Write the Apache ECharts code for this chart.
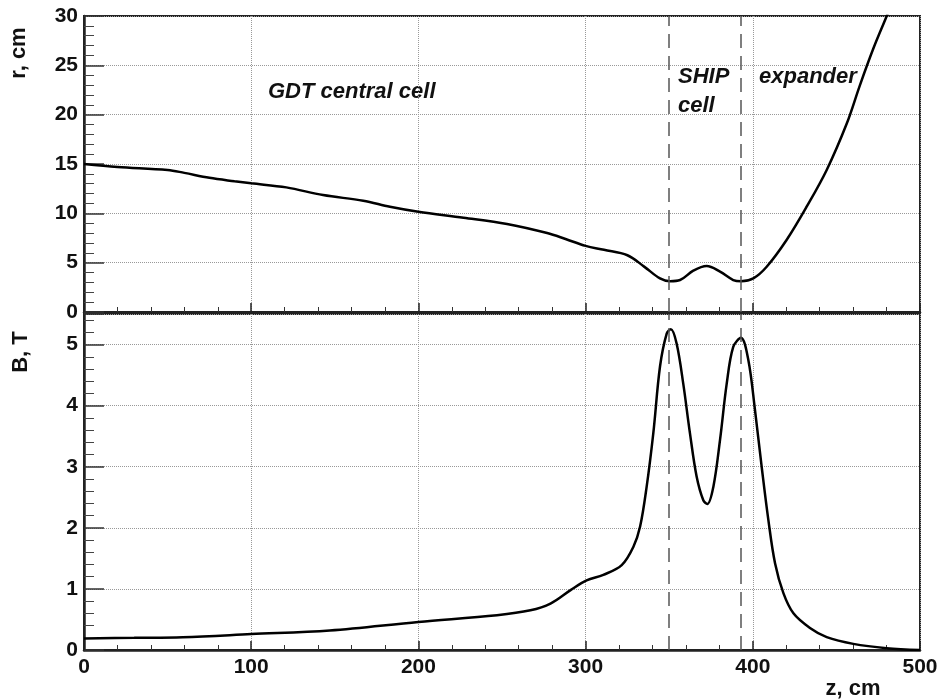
<!DOCTYPE html>
<html>
<head>
<meta charset="utf-8">
<script src="https://cdn.jsdelivr.net/npm/echarts@6/dist/echarts.min.js"></script>
<style>html,body{margin:0;padding:0;background:#fff;}#c{width:945px;height:700px;}</style>
</head>
<body>
<div id="c"></div>
<script>
// r(z) profile, top panel
const zR = [0, 20, 50, 60, 75, 90, 100, 121, 143, 167, 183, 200, 227, 253, 277, 288, 300, 311, 325, 335, 344.5, 350.5, 356.5, 364.4, 372.4, 380.4, 388.3, 393, 400.3, 408.3, 420.2, 432.2, 444.2, 456.2, 464.1, 472.1, 480.1, 486];
const rVals = [15.0, 14.7, 14.4, 14.1, 13.6, 13.25, 13.04, 12.63, 11.85, 11.28, 10.67, 10.16, 9.56, 8.92, 8.0, 7.4, 6.7, 6.3, 5.75, 4.6, 3.4, 3.12, 3.24, 4.19, 4.66, 4.09, 3.24, 3.12, 3.41, 4.59, 7.3, 10.67, 14.4, 19.1, 23.0, 26.7, 30.0, 32.5];
// B(z) profile, bottom panel
const zB = [0, 30, 59, 100, 147, 200, 247, 267, 279, 291, 300.6, 310.6, 321.6, 328.6, 332.6, 336.5, 340.5, 344.5, 348.5, 351, 354.4, 358.4, 362.4, 366.4, 370.4, 372.8, 376.4, 380.4, 384.4, 388.3, 392.9, 397.3, 401.3, 405.3, 409.3, 413.3, 418.3, 424.3, 434.2, 444.2, 460.1, 480, 500];
const bVals = [0.19, 0.2, 0.21, 0.26, 0.32, 0.46, 0.57, 0.65, 0.76, 0.98, 1.14, 1.23, 1.39, 1.69, 2.02, 2.67, 3.55, 4.64, 5.18, 5.25, 5.02, 4.36, 3.55, 2.84, 2.45, 2.39, 2.67, 3.44, 4.36, 4.96, 5.11, 4.75, 3.93, 3.0, 2.13, 1.42, 0.93, 0.60, 0.36, 0.21, 0.10, 0.03, 0.0];
// cell boundaries (dashed lines)
const boundaries = [350, 393];
// text
const yTitleTop = 'r, cm';
const yTitleBottom = 'B, T';
const xTitle = 'z, cm';
const regionLabels = ['GDT central cell', 'SHIP', 'cell', 'expander'];

const FONT = 'Liberation Sans, Arial, sans-serif';
const chart = echarts.init(document.getElementById('c'));

function pairs(xs, ys) { return xs.map((x, i) => [x, ys[i]]); }

const labelStyle = { fontFamily: FONT, fontWeight: 'bold', fontSize: 21, color: '#111' };
function xAxisCfg(gridIndex, showLabels) {
  return {
    type: 'value', gridIndex, min: 0, max: 500, interval: 100,
    axisLine: { show: true, onZero: false, lineStyle: { color: '#222', width: 2.5 } },
    axisTick: { show: true, inside: true, length: 9, lineStyle: { color: '#222', width: 1.5 } },
    minorTick: { show: true, splitNumber: 5, length: 5, lineStyle: { color: '#333', width: 1 } },
    splitLine: { show: true, lineStyle: { color: '#999', type: 'dotted', width: 1 } },
    axisLabel: Object.assign({ show: showLabels, margin: 7 }, labelStyle)
  };
}
function yAxisCfg(gridIndex, max, interval) {
  return {
    type: 'value', gridIndex, min: 0, max, interval,
    axisLine: { show: true, lineStyle: { color: '#222', width: 2.5 } },
    axisTick: { show: true, inside: true, length: 20, lineStyle: { color: '#333', width: 1.5 } },
    minorTick: { show: true, splitNumber: 5, length: 10, lineStyle: { color: '#444', width: 1 } },
    splitLine: { show: true, lineStyle: { color: '#999', type: 'dotted', width: 1 } },
    axisLabel: Object.assign({ margin: 6, formatter: v => (Math.abs(v - Math.round(v)) < 1e-9 ? String(Math.round(v)) : '') }, labelStyle)
  };
}
const dashLine = {
  silent: true, symbol: 'none', label: { show: false },
  lineStyle: { color: '#555', type: [14, 8], width: 1.5 },
  data: boundaries.map(z => ({ xAxis: z }))
};

const titleFont = 'bold 22px ' + FONT;
const annFont = 'italic bold 22px ' + FONT;
chart.setOption({
  animation: false,
  backgroundColor: '#fff',
  grid: [
    { left: 84, right: 25, top: 16, height: 296, show: true, borderColor: '#222', borderWidth: 2, backgroundColor: 'transparent' },
    { left: 84, right: 25, top: 314, height: 336, show: true, borderColor: '#222', borderWidth: 2, backgroundColor: 'transparent' }
  ],
  xAxis: [xAxisCfg(0, false), xAxisCfg(1, true)],
  yAxis: [yAxisCfg(0, 30, 5), yAxisCfg(1, 5.5, 1)],
  series: [
    { type: 'line', xAxisIndex: 0, yAxisIndex: 0, data: pairs(zR, rVals), showSymbol: false, smooth: 0.35, clip: true,
      lineStyle: { color: '#000', width: 2.5 }, markLine: dashLine },
    { type: 'line', xAxisIndex: 1, yAxisIndex: 1, data: pairs(zB, bVals), showSymbol: false, smooth: 0.35, clip: true,
      lineStyle: { color: '#000', width: 2.5 }, markLine: dashLine }
  ],
  graphic: [
    { type: 'text', x: 19, y: 53, rotation: Math.PI / 2, style: { text: yTitleTop, font: titleFont, fill: '#111', align: 'center', verticalAlign: 'middle' } },
    { type: 'text', x: 21, y: 352, rotation: Math.PI / 2, style: { text: yTitleBottom, font: titleFont, fill: '#111', align: 'center', verticalAlign: 'middle' } },
    { type: 'text', x: 853, y: 689, style: { text: xTitle, font: titleFont, fill: '#111', align: 'center', verticalAlign: 'middle' } },
    { type: 'text', x: 268, y: 92, style: { text: regionLabels[0], font: annFont, fill: '#111', align: 'left', verticalAlign: 'middle' } },
    { type: 'text', x: 678, y: 77, style: { text: regionLabels[1], font: annFont, fill: '#111', align: 'left', verticalAlign: 'middle' } },
    { type: 'text', x: 678, y: 106, style: { text: regionLabels[2], font: annFont, fill: '#111', align: 'left', verticalAlign: 'middle' } },
    { type: 'text', x: 759, y: 77, style: { text: regionLabels[3], font: annFont, fill: '#111', align: 'left', verticalAlign: 'middle' } }
  ]
});
</script>
</body>
</html>
